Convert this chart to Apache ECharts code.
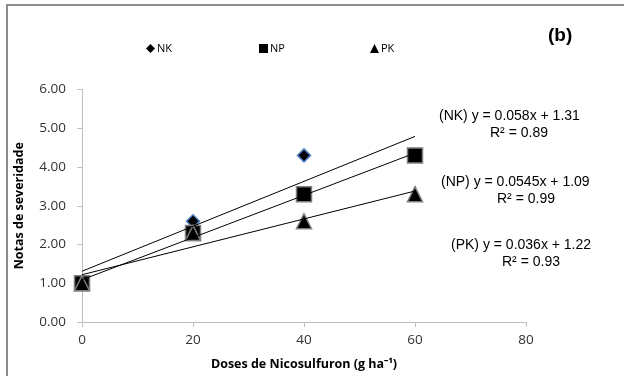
<!DOCTYPE html>
<html>
<head>
<meta charset="utf-8">
<script src="https://cdn.jsdelivr.net/npm/echarts@6/dist/echarts.min.js"></script>
<style>
html,body{margin:0;padding:0;background:#fff;}
#c{width:624px;height:376px;}
</style>
</head>
<body>
<div id="c"></div>
<script>
// Data
const doses = [0, 20, 40, 60];
const nk = [1.0, 2.6, 4.3, 4.3];
const np = [1.0, 2.3, 3.3, 4.3];
const pk = [1.0, 2.3, 2.6, 3.3];
const seriesNames = ['NK', 'NP', 'PK'];
const slopes = ['0.058', '0.0545', '0.036'];
const intercepts = ['1.31', '1.09', '1.22'];
const r2 = ['0.89', '0.99', '0.93'];
const xTicks = [0, 20, 40, 60, 80];
const yTicks = [0, 1, 2, 3, 4, 5, 6];

const chart = echarts.init(document.getElementById('c'), null, {renderer: 'canvas'});
const values = [nk, np, pk];
const symbols = ['diamond', 'rect', 'triangle'];
const borders = ['#4a7ebb', '#7f7f7f', '#7f7f7f'];
const sizes = [13, 15, 15];

const scatter = values.map((v, i) => ({
  name: seriesNames[i],
  type: 'scatter',
  data: doses.map((d, k) => [d, v[k]]),
  symbol: symbols[i],
  symbolSize: sizes[i],
  itemStyle: {color: '#000', borderColor: borders[i], borderWidth: 1.5, opacity: 1},
  z: 2 + i
}));
const trend = values.map((v, i) => ({
  type: 'line',
  silent: true,
  data: [doses[0], doses[doses.length - 1]].map(x => [x, +slopes[i] * x + +intercepts[i]]),
  symbol: 'none',
  lineStyle: {color: '#000', width: 1},
  z: 6
}));

const legendLefts = [141, 254, 365];
const legends = seriesNames.map((n, i) => ({
  data: [{name: n, icon: symbols[i], itemStyle: {color: '#000', borderColor: '#000', borderWidth: 0}}],
  left: legendLefts[i],
  top: 38,
  itemWidth: 9,
  itemHeight: 9,
  itemGap: 2,
  textStyle: {fontFamily: 'Open Sans', fontSize: 11, color: '#000', padding: [0, 0, 0, -3]},
  selectedMode: false
}));

const eqY = [109, 175, 238];
const eqX = [439, 441, 451];
const r2X = [490, 497, 502];
const graphics = [];
seriesNames.forEach((n, i) => {
  graphics.push({
    type: 'text', left: eqX[i], top: eqY[i],
    style: {text: '(' + n + ') y = ' + slopes[i] + 'x + ' + intercepts[i], font: '14px "Liberation Sans"', fill: '#000'}
  });
  graphics.push({
    type: 'text', left: r2X[i], top: eqY[i] + 17,
    style: {text: 'R² = ' + r2[i], font: '14px "Liberation Sans"', fill: '#000'}
  });
});
graphics.push({
  type: 'text', left: 548, top: 26,
  style: {text: '(b)', font: 'bold 19px "Liberation Sans"', fill: '#000'}
});
graphics.push({
  type: 'rect', shape: {x: 7, y: 5, width: 640, height: 400},
  style: {fill: 'none', stroke: '#8c8c8c', lineWidth: 2}, silent: true
});

chart.setOption({
  animation: false,
  backgroundColor: '#fff',
  legend: legends,
  grid: {left: 82, right: 98, top: 89.5, bottom: 51},
  xAxis: {
    type: 'value', min: xTicks[0], max: xTicks[xTicks.length - 1], interval: 20,
    name: 'Doses de Nicosulfuron (g ha⁻¹)', nameLocation: 'middle', nameGap: 36,
    nameTextStyle: {fontFamily: 'Open Sans', fontWeight: 'bold', fontSize: 12.5, color: '#000'},
    axisLine: {lineStyle: {color: '#bfbfbf'}},
    axisTick: {show: true, length: 5, lineStyle: {color: '#bfbfbf'}},
    axisLabel: {fontFamily: 'Open Sans', fontSize: 13.5, color: '#333', margin: 11},
    splitLine: {show: false}
  },
  yAxis: {
    type: 'value', min: yTicks[0], max: yTicks[yTicks.length - 1], interval: 1,
    name: 'Notas de severidade', nameLocation: 'middle', nameGap: 56,
    nameTextStyle: {fontFamily: 'Open Sans', fontWeight: 'bold', fontSize: 12.5, color: '#000'},
    axisLine: {show: true, lineStyle: {color: '#bfbfbf'}},
    axisTick: {show: true, length: 5, lineStyle: {color: '#bfbfbf'}},
    axisLabel: {fontFamily: 'Open Sans', fontSize: 13.5, color: '#333', margin: 16, formatter: v => v.toFixed(2)},
    splitLine: {show: false}
  },
  graphic: graphics,
  series: [...scatter, ...trend]
});
</script>
</body>
</html>
